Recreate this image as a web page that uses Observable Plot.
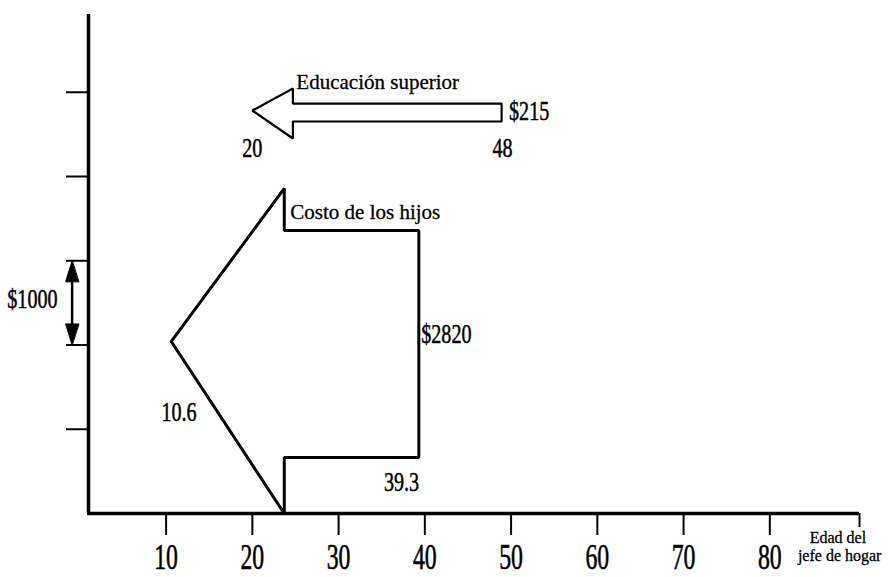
<!DOCTYPE html>
<html>
<head>
<meta charset="utf-8">
<script src="https://cdn.jsdelivr.net/npm/d3@7"></script>
<script src="https://cdn.jsdelivr.net/npm/@observablehq/plot@0.6"></script>
<style>
  body { margin: 0; background: #fff; }
</style>
</head>
<body>
<div id="chart"></div>
<script>
// ---- data ----
const xTicks = [10, 20, 30, 40, 50, 60, 70, 80];
const yTicks = [1000, 2000, 3000, 4000, 5000];

// "Costo de los hijos" arrow outline (age, dollars)
const hijosAge = [39.3, 39.3, 23.7, 23.7, 10.6, 23.7, 23.7];
const hijosAmt = [3359, 665, 665, 0, 2042, 3858, 3359];

// "Educación superior" arrow outline (age, dollars)
const eduAge = [48.9, 48.9, 24.7, 24.7, 20, 24.7, 24.7];
const eduAmt = [4866, 4653, 4653, 4451, 4783, 5045, 4866];

// scale bar ($1000) on the left
const barAge = -0.9;
const barLow = 2000, barHigh = 3000, barHead = 250;

// annotations
const numLabels = ["$215", "20", "48", "$2820", "10.6", "39.3", "$1000"];
const numAge    = [52.1, 20, 49, 42.5, 11.5, 37.3, -5.5];
const numAmt    = [4772, 4338, 4338, 2136, 1199, 374, 2540];

const titles    = ["Educación superior", "Costo de los hijos"];
const titleAge  = [25.1, 24.4];
const titleAmt  = [5116, 3579];

const axisTitle = ["Edad del", "jefe de hogar"];
const axisTitleAge = [87.9, 88.1];

// ---- layout ----
const W = 891, H = 577;
const mL = 88, mR = 32, mT = 14, mB = 64;
const xMin = 1, xMax = 90.4, yMax = 5923;
const pxPerX = (W - mL - mR) / (xMax - xMin);
const pxPerY = (H - mT - mB) / yMax;
const dx = px => px / pxPerX;     // pixel length -> age units
const dy = px => px / pxPerY;     // pixel length -> dollar units

const idx = a => a.map((_, i) => i);

const headW = dx(6.5);
const barTop = [barHigh, barHigh - barHead, barHigh - barHead];
const barTopX = [barAge, barAge - headW, barAge + headW];
const barBot = [barLow, barLow + barHead, barLow + barHead];

const chart = Plot.plot({
  width: W, height: H,
  marginLeft: mL, marginRight: mR, marginTop: mT, marginBottom: mB,
  x: {domain: [xMin, xMax], axis: null},
  y: {domain: [0, yMax], axis: null},
  style: {fontFamily: "'Liberation Serif', 'DejaVu Serif', serif", background: "#fff", color: "#000"},
  marks: [
    // axes
    Plot.ruleY([0], {x1: xMin - dx(1), x2: xMax, stroke: "black", strokeWidth: 3.5}),
    Plot.ruleX([xMin], {y1: 0, y2: yMax, stroke: "black", strokeWidth: 3.5}),
    Plot.ruleX(xTicks, {x: d => d, y1: 0, y2: -dy(22), stroke: "black", strokeWidth: 2}),
    Plot.ruleX([xMax], {y1: 0, y2: -dy(14), stroke: "black", strokeWidth: 2}),
    Plot.ruleY(yTicks, {y: d => d, x1: xMin, x2: xMin - dx(22), stroke: "black", strokeWidth: 2}),
    Plot.text(xTicks, {x: d => d, y: 0, dy: 44, text: d => String(d), fontSize: 36, fill: "black",
      stroke: "black", strokeWidth: 0.6}),
    Plot.text(axisTitle, {x: (d, i) => axisTitleAge[i], y: (d, i) => [-dy(24), -dy(42.5)][i], text: d => d,
      fontSize: 16, fill: "black", stroke: "black", strokeWidth: 0.3}),

    // arrows
    Plot.line(idx(hijosAge), {x: i => hijosAge[i], y: i => hijosAmt[i], curve: "linear-closed",
      stroke: "black", strokeWidth: 3, strokeLinejoin: "miter"}),
    Plot.line(idx(eduAge), {x: i => eduAge[i], y: i => eduAmt[i], curve: "linear-closed",
      stroke: "black", strokeWidth: 2.2, strokeLinejoin: "miter"}),

    // $1000 scale bar
    Plot.ruleX([barAge], {y1: barLow + barHead / 2, y2: barHigh - barHead / 2, stroke: "black", strokeWidth: 2.5}),
    Plot.line(idx(barTop), {x: i => barTopX[i], y: i => barTop[i], curve: "linear-closed", fill: "black", stroke: "black", strokeWidth: 1}),
    Plot.line(idx(barBot), {x: i => barTopX[i], y: i => barBot[i], curve: "linear-closed", fill: "black", stroke: "black", strokeWidth: 1}),

    // labels
    Plot.text(numLabels, {x: (d, i) => numAge[i], y: (d, i) => numAmt[i], text: d => d, fontSize: 28, fill: "black",
      stroke: "black", strokeWidth: 0.5}),
    Plot.text(titles, {x: (d, i) => titleAge[i], y: (d, i) => titleAmt[i], text: d => d, fontSize: 21, textAnchor: "start",
      fill: "black", stroke: "black", strokeWidth: 0.3})
  ]
});

// condensed numerals, as in the printed figure
chart.querySelectorAll("text").forEach(t => {
  const s = t.textContent.trim();
  if (!/^\$?[\d.]+$/.test(s)) return;
  const g = t.closest("g[font-size]");
  const fs = g ? +g.getAttribute("font-size") : 28;
  const k = fs >= 30 ? 0.66 : 0.72;
  const x = +t.getAttribute("x") || 0;
  const prev = t.getAttribute("transform") || "";
  t.setAttribute("transform", `${prev} translate(${x},0) scale(${k},1) translate(${-x},0)`);
});

document.getElementById("chart").appendChild(chart);
</script>
</body>
</html>
